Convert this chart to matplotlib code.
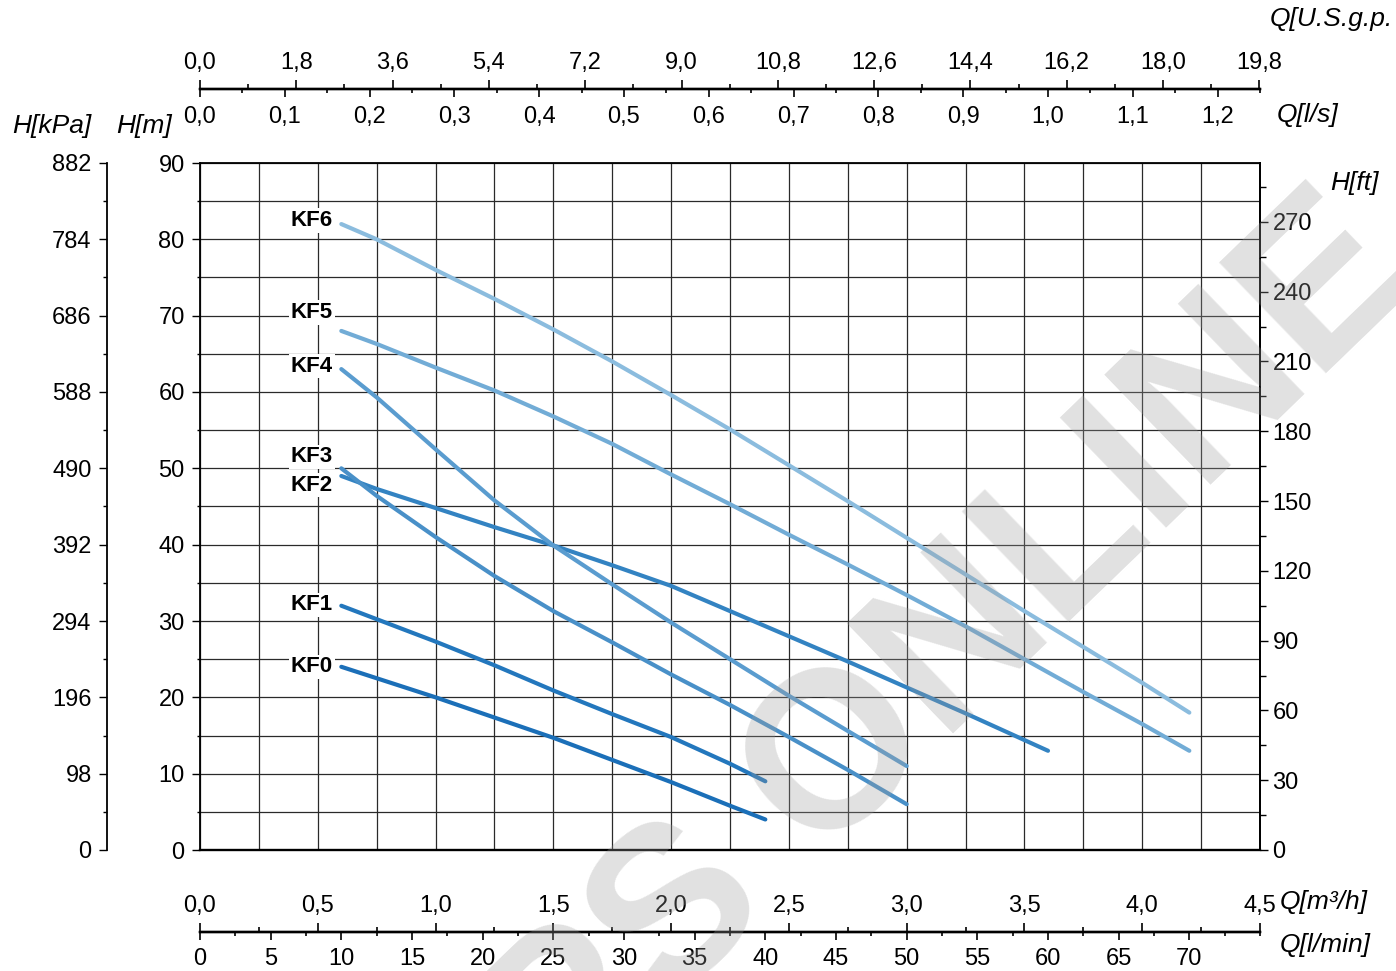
import matplotlib
matplotlib.use('Agg')
import matplotlib.pyplot as plt
from matplotlib.ticker import MultipleLocator, FixedLocator, FuncFormatter, NullFormatter
import numpy as np

plt.rcParams['font.family'] = ['Liberation Sans', 'DejaVu Sans']

# ---------------- data (Q in l/min, H in m) ----------------
names = ['KF0', 'KF1', 'KF2', 'KF3', 'KF4', 'KF5', 'KF6']

q_kf0 = [10, 16.67, 25, 33.33, 37.5, 40]
h_kf0 = [24, 20.0, 14.7, 8.9, 5.8, 4]

q_kf1 = [10, 16.67, 20.83, 25, 29.17, 33.33, 37.5, 40]
h_kf1 = [32, 27.3, 24.2, 20.9, 17.8, 14.8, 11.3, 9]

q_kf2 = [10, 12.5, 16.67, 20.83, 25, 29.17, 33.33, 37.5, 41.67, 45.83, 50, 54.17, 60]
h_kf2 = [49, 47.3, 44.8, 42.3, 39.9, 37.3, 34.6, 31.3, 28.0, 24.7, 21.3, 17.9, 13]

q_kf3 = [10, 12.5, 16.67, 20.83, 25, 29.17, 33.33, 37.5, 41.67, 45.83, 50]
h_kf3 = [50, 46.4, 41.0, 35.9, 31.3, 27.2, 23.0, 19.0, 14.8, 10.5, 6]

q_kf4 = [10, 12.5, 16.67, 20.83, 25, 29.17, 33.33, 37.5, 41.67, 45.83, 50]
h_kf4 = [63, 59.3, 52.5, 45.8, 39.9, 34.8, 29.8, 25.0, 20.2, 15.6, 11]

q_kf5 = [10, 12.5, 16.67, 20.83, 25, 29.17, 33.33, 37.5, 41.67, 45.83, 50, 54.17, 58.33, 62.5, 66.67, 70]
h_kf5 = [68, 66.3, 63.2, 60.2, 56.8, 53.2, 49.2, 45.3, 41.3, 37.4, 33.4, 29.3, 25.0, 20.7, 16.5, 13]

q_kf6 = [10, 12.5, 16.67, 20.83, 25, 29.17, 33.33, 37.5, 41.67, 45.83, 50, 54.17, 58.33, 62.5, 66.67, 70]
h_kf6 = [82, 80.0, 76.0, 72.2, 68.2, 64.0, 59.6, 55.1, 50.4, 45.7, 40.9, 36.1, 31.3, 26.6, 21.9, 18]

kpa_ticks = [0, 98, 196, 294, 392, 490, 588, 686, 784, 882]
m_ticks = [0, 10, 20, 30, 40, 50, 60, 70, 80, 90]
ft_ticks = [0, 30, 60, 90, 120, 150, 180, 210, 240, 270]
ls_ticks = [0.0, 0.1, 0.2, 0.3, 0.4, 0.5, 0.6, 0.7, 0.8, 0.9, 1.0, 1.1, 1.2]
gpm_ticks = [0.0, 1.8, 3.6, 5.4, 7.2, 9.0, 10.8, 12.6, 14.4, 16.2, 18.0, 19.8]
m3h_ticks = [0.0, 0.5, 1.0, 1.5, 2.0, 2.5, 3.0, 3.5, 4.0, 4.5]
lmin_ticks = [0, 5, 10, 15, 20, 25, 30, 35, 40, 45, 50, 55, 60, 65, 70]

series_q = [q_kf0, q_kf1, q_kf2, q_kf3, q_kf4, q_kf5, q_kf6]
series_h = [h_kf0, h_kf1, h_kf2, h_kf3, h_kf4, h_kf5, h_kf6]

# ---------------- style / layout ----------------
colors = ['#1b6fb8', '#2377bd', '#3383c2', '#4990c8', '#5a9ccf', '#72acd6', '#8bbcde']
label_pos = [(9.4, 24.0), (9.4, 32.1), (9.4, 47.8), (9.4, 51.5), (9.4, 63.4), (9.4, 70.4), (9.4, 82.5)]

W, H = 1396, 971
fig = plt.figure(figsize=(W / 100, H / 100), dpi=100)


def fx(px):
    return px / W


def fy(py):
    return 1 - py / H


def comma(fmt):
    return FuncFormatter(lambda v, p: (fmt % v).replace('.', ','))


TS = 17          # tick label size
LS = 19          # axis title size
GRID = '#2a2a2a'

X0, X1, Y0, Y1 = 200, 1260, 850, 163
ax = fig.add_axes([fx(X0), fy(Y0), (X1 - X0) / W, (Y0 - Y1) / H])
ax.set_xlim(0, 75)
ax.set_ylim(0, 90)
ax.xaxis.set_major_locator(FixedLocator(np.linspace(0, 75, 19)))
ax.tick_params(axis='x', which='both', bottom=False, top=False, labelbottom=False)
ax.yaxis.set_major_locator(FixedLocator(m_ticks))
ax.yaxis.set_minor_locator(MultipleLocator(5))
ax.tick_params(axis='y', which='major', direction='out', length=5.5, width=1.0,
               labelsize=TS, pad=5.5)
ax.tick_params(axis='y', which='minor', direction='out', length=2, width=1.0)
ax.grid(True, axis='x', which='major', color=GRID, lw=0.9)
ax.grid(True, axis='y', which='both', color=GRID, lw=0.9)
ax.set_axisbelow(True)
for s in ['left', 'top', 'right']:
    ax.spines[s].set_linewidth(1.3)
ax.spines['bottom'].set_linewidth(1.7)

for q, h, c in zip(series_q, series_h, colors):
    ax.plot(q, h, color=c, lw=3.0, solid_capstyle='round', solid_joinstyle='round', zorder=3)

for n, (lx, ly) in zip(names, label_pos):
    ax.text(lx, ly, n, ha='right', va='center', fontsize=16, fontweight='bold',
            zorder=4, bbox=dict(boxstyle='square,pad=0.08', fc='white', ec='none'))

# kPa axis
axk = ax.twinx()
axk.set_ylim(0, 882)
axk.yaxis.set_ticks_position('left')
axk.spines['left'].set_position(('axes', -93 / (X1 - X0)))
axk.spines['left'].set_visible(True)
axk.spines['left'].set_linewidth(1.3)
for s in ['right', 'top', 'bottom']:
    axk.spines[s].set_visible(False)
axk.yaxis.set_major_locator(FixedLocator(kpa_ticks))
axk.yaxis.set_minor_locator(MultipleLocator(49))
axk.tick_params(axis='y', which='major', direction='out', length=5.5, width=1.0,
                labelsize=TS, pad=5.5)
axk.tick_params(axis='y', which='minor', direction='out', length=3, width=1.0)

# ft axis
axf = ax.twinx()
axf.set_ylim(0, 90 * 3.28084)
for s in ['left', 'top', 'bottom']:
    axf.spines[s].set_visible(False)
axf.spines['right'].set_linewidth(1.3)
axf.yaxis.set_major_locator(FixedLocator(ft_ticks))
axf.yaxis.set_minor_locator(MultipleLocator(15))
axf.tick_params(axis='y', which='major', direction='out', length=6, width=1.0,
                labelsize=TS, pad=3)
axf.tick_params(axis='y', which='minor', direction='out', length=4, width=1.0)


def flat_axis(ypx, xmax, side, majors, minor_step, fmt, maj_len, min_len, pad):
    a = fig.add_axes([fx(X0), fy(ypx), (X1 - X0) / W, 1e-5])
    a.patch.set_visible(False)
    a.set_xlim(0, xmax)
    a.set_yticks([])
    for s in ['left', 'right', 'top', 'bottom']:
        a.spines[s].set_visible(s == side)
    a.spines[side].set_linewidth(1.7)
    a.xaxis.set_ticks_position(side)
    a.xaxis.set_label_position(side)
    a.xaxis.set_major_locator(FixedLocator(majors))
    a.xaxis.set_minor_locator(MultipleLocator(minor_step))
    a.xaxis.set_major_formatter(comma(fmt))
    a.xaxis.set_minor_formatter(NullFormatter())
    a.tick_params(axis='x', which='major', direction='out', length=maj_len, width=1.2,
                  labelsize=TS, pad=pad)
    a.tick_params(axis='x', which='minor', direction='out', length=min_len, width=1.2)
    return a


# top: l/s below line, US gpm above line
flat_axis(89, 1.25, 'bottom', ls_ticks, 0.05, '%.1f', 5.5, 3, 6.5)
flat_axis(89, 75 / 3.78541, 'top', gpm_ticks, 0.9, '%.1f', 6.5, 3.5, 4.5)
# bottom: m3/h above line, l/min below line
flat_axis(932, 4.5, 'top', m3h_ticks, 0.25, '%.1f', 6.5, 3.5, 4.5)
flat_axis(932, 75, 'bottom', lmin_ticks, 2.5, '%g', 6, 3, 5.5)

# axis titles
tkw = dict(fontsize=LS, style='italic', va='center', ha='left')
fig.text(fx(12), fy(126), 'H[kPa]', **tkw)
fig.text(fx(116), fy(126), 'H[m]', **tkw)
fig.text(fx(1270), fy(19), 'Q[U.S.g.p.', **tkw)
fig.text(fx(1277), fy(115), 'Q[l/s]', **tkw)
fig.text(fx(1330), fy(183), 'H[ft]', **tkw)
fig.text(fx(1280), fy(902), 'Q[m³/h]', **tkw)
fig.text(fx(1280), fy(945), 'Q[l/min]', **tkw)

# watermark
fig.text(fx(814), fy(868), 'PUMPS ONLINE', rotation=44, rotation_mode='anchor',
         ha='center', va='baseline', fontsize=160, fontweight='bold',
         color='#9b9b9b', alpha=0.3, zorder=100)

fig.savefig('out.png', dpi=100)
